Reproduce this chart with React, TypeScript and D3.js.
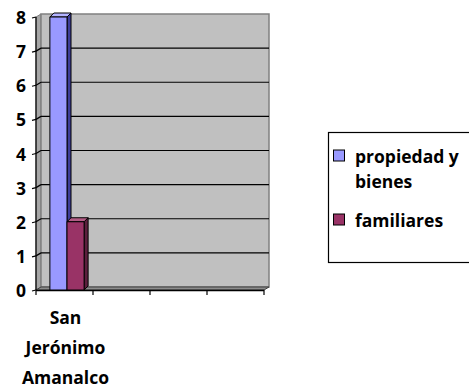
import React from "react";
import * as d3 from "d3";

// Data
const categories = ["San Jerónimo Amanalco", "c2", "c3", "c4"];
const categoryLabels = [["San", "Jerónimo", "Amanalco"], [], [], []];
const seriesNames = ["propiedad y bienes", "familiares"];
const seriesValues = [[8], [2]];
const seriesColors = ["#9999FF", "#993366"];
const seriesSideColors = ["#3d3d99", "#5c1f3d"];
const seriesTopColors = ["#b3b3ff", "#b35c85"];
const yTicks = [0, 1, 2, 3, 4, 5, 6, 7, 8];

const W = 469;
const H = 387;
const FONT = "'Open Sans', Lato, sans-serif";
const FS = 17.5;

export default function App() {
  const left = 36;
  const right = 264;
  const bottom = 290;
  const top = 17;
  const wdx = 5;
  const wdy = -3;
  const bdx = 4;
  const bdy = -4;

  const x = d3.scaleBand<string>().domain(categories).range([left, right]);
  const y = d3.scaleLinear().domain([0, 8]).range([bottom, top]);
  const bw = x.bandwidth();
  const groupW = bw * 0.6;
  const x1 = d3
    .scaleBand<string>()
    .domain(seriesNames)
    .range([0, groupW]);

  const pts = (arr: [number, number][]) => arr.map((p) => p.join(",")).join(" ");

  const bars: React.ReactNode[] = [];
  seriesNames.forEach((s, si) => {
    seriesValues[si].forEach((v, ci) => {
      const bx = (x(categories[ci]) as number) + (bw - groupW) / 2 + 2.5 + (x1(s) as number);
      const bwid = x1.bandwidth();
      const by = y(v);
      const b0 = y(0);
      bars.push(
        <g key={`${si}-${ci}`} stroke="#000" strokeWidth={1} strokeLinejoin="round">
          <polygon
            points={pts([
              [bx + bwid, by],
              [bx + bwid + bdx, by + bdy],
              [bx + bwid + bdx, b0 + bdy],
              [bx + bwid, b0],
            ])}
            fill={seriesSideColors[si]}
          />
          <polygon
            points={pts([
              [bx, by],
              [bx + bdx, by + bdy],
              [bx + bwid + bdx, by + bdy],
              [bx + bwid, by],
            ])}
            fill={seriesTopColors[si]}
          />
          <rect x={bx} y={by} width={bwid} height={b0 - by} fill={seriesColors[si]} />
        </g>
      );
    });
  });

  const xTickPos = categories.map((c) => x(c) as number).concat([right]);

  return (
    <svg width={W} height={H} style={{ position: "absolute", left: 0, top: 0, background: "#fff" }}>
      {/* side wall */}
      <polygon
        points={pts([
          [left, bottom],
          [left + wdx, bottom + wdy],
          [left + wdx, top + wdy],
          [left, top],
        ])}
        fill="#a6a6a6"
        stroke="#808080"
      />
      {/* back wall */}
      <rect
        x={left + wdx}
        y={top + wdy}
        width={right - left}
        height={bottom - top}
        fill="#c0c0c0"
        stroke="#808080"
        strokeWidth={1.5}
      />
      {/* gridlines */}
      {yTicks.slice(1, -1).map((t) => (
        <g key={t} stroke="#000" strokeWidth={1.2}>
          <line x1={left} y1={y(t)} x2={left + wdx} y2={y(t) + wdy} />
          <line x1={left + wdx} y1={y(t) + wdy} x2={right + wdx} y2={y(t) + wdy} />
        </g>
      ))}
      {/* floor */}
      <polygon
        points={pts([
          [left, bottom],
          [right, bottom],
          [right + wdx, bottom + wdy],
          [left + wdx, bottom + wdy],
        ])}
        fill="#8c8c8c"
        stroke="#404040"
      />
      <line x1={left} y1={bottom + 0.5} x2={right} y2={bottom + 0.5} stroke="#000" strokeWidth={1.5} />
      {bars}
      {/* y axis */}
      <line x1={left} y1={top} x2={left} y2={bottom} stroke="#000" strokeWidth={1.2} />
      {yTicks.map((t) => (
        <g key={t}>
          <line x1={left - 4} y1={y(t) + 1} x2={left} y2={y(t)} stroke="#000" strokeWidth={1.2} />
          <text
            x={26}
            y={y(t)}
            textAnchor="end"
            dominantBaseline="central"
            fontFamily={FONT}
            fontWeight="bold"
            fontSize={FS}
            fill="#000"
          >
            {t}
          </text>
        </g>
      ))}
      {/* x axis ticks */}
      {xTickPos.map((p, i) => (
        <line key={i} x1={p} y1={bottom} x2={p} y2={bottom + 5} stroke="#000" strokeWidth={1.2} />
      ))}
      {categories.map((c, ci) =>
        categoryLabels[ci].map((ln, li) => (
          <text
            key={`${ci}-${li}`}
            x={(x(c) as number) + bw / 2 + 1}
            y={317 + li * 30}
            textAnchor="middle"
            dominantBaseline="central"
            fontFamily={FONT}
            fontWeight="bold"
            fontSize={FS}
            fill="#000"
          >
            {ln}
          </text>
        ))
      )}
      {/* legend */}
      <rect x={328.5} y={132.5} width={150} height={130} fill="#fff" stroke="#000" strokeWidth={1.2} />
      {seriesNames.map((s, si) => {
        const ly = si === 0 ? 156 : 220;
        const lines = si === 0 ? ["propiedad y", "bienes"] : ["familiares"];
        return (
          <g key={s}>
            <rect x={333.5} y={ly - 6} width={11} height={11} fill={seriesColors[si]} stroke="#000" strokeWidth={1} />
            {lines.map((ln, li) => (
              <text
                key={li}
                x={355}
                y={ly + li * 25}
                dominantBaseline="central"
                fontFamily={FONT}
                fontWeight="bold"
                fontSize={FS}
                fill="#000"
              >
                {ln}
              </text>
            ))}
          </g>
        );
      })}
    </svg>
  );
}
